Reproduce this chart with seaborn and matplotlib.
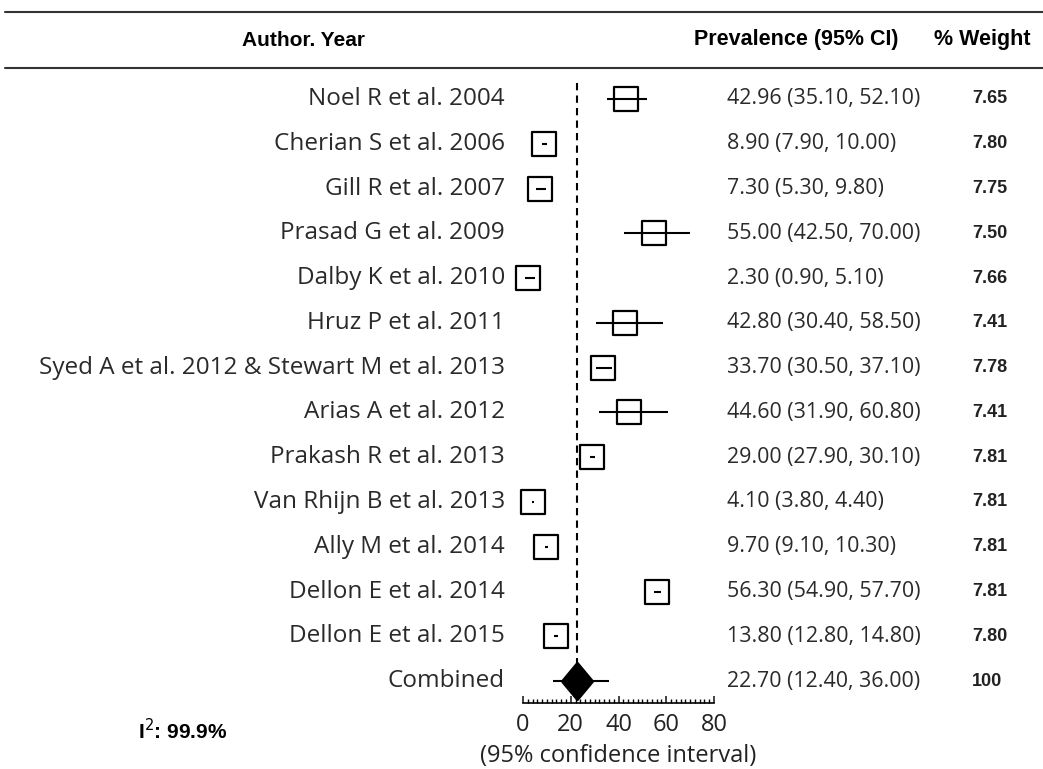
import numpy as np
import pandas as pd
import matplotlib
matplotlib.use("Agg")
import matplotlib.pyplot as plt
from matplotlib.transforms import blended_transform_factory
import seaborn as sns

studies = [
    "Noel R et al. 2004", "Cherian S et al. 2006", "Gill R et al. 2007",
    "Prasad G et al. 2009", "Dalby K et al. 2010", "Hruz P et al. 2011",
    "Syed A et al. 2012 & Stewart M et al. 2013", "Arias A et al. 2012",
    "Prakash R et al. 2013", "Van Rhijn B et al. 2013", "Ally M et al. 2014",
    "Dellon E et al. 2014", "Dellon E et al. 2015",
]
prevalence = [42.96, 8.90, 7.30, 55.00, 2.30, 42.80, 33.70, 44.60, 29.00, 4.10, 9.70, 56.30, 13.80]
ci_low = [35.10, 7.90, 5.30, 42.50, 0.90, 30.40, 30.50, 31.90, 27.90, 3.80, 9.10, 54.90, 12.80]
ci_high = [52.10, 10.00, 9.80, 70.00, 5.10, 58.50, 37.10, 60.80, 30.10, 4.40, 10.30, 57.70, 14.80]
weights = ["7.65", "7.80", "7.75", "7.50", "7.66", "7.41", "7.78", "7.41", "7.81", "7.81", "7.81", "7.81", "7.80"]

pooled_label = "Combined"
pooled_est = 22.70
pooled_low = 12.40
pooled_high = 36.00
pooled_weight = "100"
i_squared = "99.9%"

x_ticks = [0, 20, 40, 60, 80]

df = pd.DataFrame({"study": studies, "prev": prevalence, "lo": ci_low, "hi": ci_high})
df["row"] = np.arange(len(df))
pooled_row = len(df)

sns.set_theme(style="white")
label_font = ["Open Sans", "DejaVu Sans"]
head_font = ["Liberation Sans Narrow", "Liberation Sans", "DejaVu Sans"]
plt.rcParams["font.family"] = label_font

W, H = 1043, 769
fig = plt.figure(figsize=(W / 100, H / 100), dpi=100)
ax = fig.add_axes([523 / W, 1 - 703 / H, 191 / W, (703 - 75) / H])

# confidence interval whiskers
ax.hlines(df["row"], df["lo"], df["hi"], color="black", lw=1.5, zorder=4)
# study boxes
sns.scatterplot(data=df, x="prev", y="row", marker="s", s=300, color="white",
                edgecolor="black", linewidth=1.6, ax=ax, zorder=3, clip_on=False, legend=False)
# pooled estimate: slightly tall diamond
ax.hlines(pooled_row, pooled_low, pooled_high, color="black", lw=1.5, zorder=4)
diamond = [(-1, 0), (0, 1.2), (1, 0), (0, -1.2), (-1, 0)]
sns.scatterplot(x=[pooled_est], y=[pooled_row], marker=diamond, s=680, color="black",
                edgecolor="black", ax=ax, zorder=5, clip_on=False, legend=False)
# pooled reference line
ax.vlines(pooled_est, -0.36, pooled_row - 0.35, color="black", lw=1.5,
          linestyles=(0, (3.5, 2.5)), zorder=2)

ax.set_xlim(0, 80)
ax.set_ylim(13.49, -0.536)
ax.set_xticks(x_ticks)
ax.set_xticks(np.arange(0, 81, 2), minor=True)
ax.set_yticks([])
for side in ["left", "top", "right"]:
    ax.spines[side].set_visible(False)
ax.spines["bottom"].set_color("black")
ax.spines["bottom"].set_linewidth(1.2)
ax.tick_params(axis="x", which="major", direction="in", length=5, width=1.2,
               labelsize=17, colors="#222222", pad=7, bottom=True)
ax.tick_params(axis="x", which="minor", direction="in", length=3, width=1.0,
               colors="black", bottom=True)
ax.set_xlabel("(95% confidence interval)", fontsize=17, color="#222222", labelpad=5)
ax.set_ylabel("")
ax.patch.set_alpha(0)

tr = blended_transform_factory(fig.transFigure, ax.transData)
all_labels = studies + [pooled_label]
all_text = [f"{p:.2f} ({l:.2f}, {h:.2f})" for p, l, h in zip(prevalence, ci_low, ci_high)]
all_text.append(f"{pooled_est:.2f} ({pooled_low:.2f}, {pooled_high:.2f})")
all_w = weights + [pooled_weight]
for i in range(len(all_labels)):
    fig.text(505 / W, i, all_labels[i], transform=tr, ha="right", va="center",
             fontsize=17.5, color="#2a2a2a")
    fig.text(727 / W, i, all_text[i], transform=tr, ha="left", va="center",
             fontsize=15.4, color="#2a2a2a")
    fig.text(972 / W, i, all_w[i], transform=tr, ha="left", va="center",
             fontsize=13, color="#222222", family=head_font, weight="bold")

# header
fig.text(304 / W, 1 - 40 / H, "Author. Year", ha="center", va="center",
         fontsize=15, weight="bold", family=head_font, color="black")
fig.text(796 / W, 1 - 40 / H, "Prevalence (95% CI)", ha="center", va="center",
         fontsize=15.5, weight="bold", family=head_font, color="black")
fig.text(982 / W, 1 - 40 / H, "% Weight", ha="center", va="center",
         fontsize=15.5, weight="bold", family=head_font, color="black")
for yy in (12, 68):
    fig.add_artist(plt.Line2D([5 / W, 1.0], [1 - yy / H, 1 - yy / H],
                              transform=fig.transFigure, color="#333333", lw=1.5))

fig.text(138 / W, 1 - 731 / H, f"I$^2$: {i_squared}", ha="left", va="center",
         fontsize=15, weight="bold", family=head_font, color="black")

fig.savefig("out.png", dpi=100, facecolor="white")
